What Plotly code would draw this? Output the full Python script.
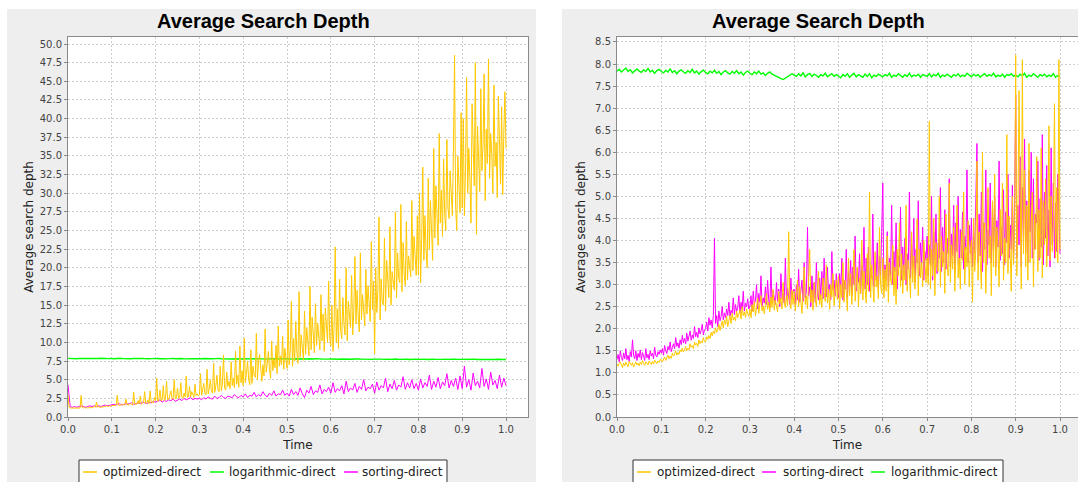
import plotly.graph_objects as go

# ---------------------------------------------------------------- data
# Sample times: every 0.0025 for the busy series, every 0.005 for the others
time_fine = [i / 400 for i in range(401)]
time_dense = [i / 200 for i in range(201)]

# Run A
a_optimized = [
    3.0, 1.3, 1.2, 1.2, 1.3, 1.2, 1.2, 1.3, 1.2, 1.3, 1.2, 1.2, 2.9, 1.3, 1.2, 1.3, 1.2, 1.3, 1.2, 1.3,
    1.3, 1.2, 1.3, 1.3, 1.4, 1.3, 2.0, 1.3, 1.4, 1.3, 1.3, 1.4, 1.4, 1.3, 1.4, 1.5, 1.4, 1.4, 1.5, 1.4,
    1.5, 1.5, 1.6, 1.5, 1.6, 2.9, 1.6, 1.5, 1.6, 1.7, 1.6, 1.7, 1.6, 2.4, 1.7, 1.6, 1.7, 1.8, 1.7, 1.6,
    3.3, 1.7, 1.8, 1.7, 2.2, 1.8, 2.8, 1.7, 1.8, 1.9, 3.4, 1.8, 1.9, 2.3, 1.8, 3.5, 1.9, 2.0, 1.9, 2.6,
    2.2, 5.2, 2.1, 2.4, 3.6, 2.2, 2.3, 4.2, 2.2, 2.5, 4.8, 2.3, 2.4, 3.0, 3.5, 2.4, 2.5, 5.0, 2.4, 2.6,
    3.9, 2.5, 2.6, 4.6, 2.7, 2.5, 3.2, 2.7, 5.5, 2.6, 2.8, 4.1, 2.7, 3.4, 2.8, 2.6, 4.4, 2.9, 3.1, 2.8,
    3.0, 5.8, 2.9, 3.5, 4.5, 3.2, 3.0, 6.4, 3.1, 3.8, 5.0, 3.4, 3.2, 7.2, 3.3, 4.2, 5.6, 3.6, 3.4, 6.8,
    3.5, 4.4, 8.3, 3.9, 3.6, 6.0, 4.1, 4.8, 3.8, 7.4, 4.2, 5.2, 3.9, 8.8, 4.4, 5.6, 4.0, 9.5, 4.6, 6.2,
    4.2, 10.6, 4.6, 6.0, 7.5, 5.0, 4.3, 9.0, 4.5, 6.8, 5.6, 5.3, 11.2, 5.0, 7.6, 8.4, 5.8, 4.8, 7.0, 5.5,
    11.8, 6.0, 7.2, 8.8, 6.4, 5.2, 10.2, 6.2, 7.8, 6.6, 9.6, 5.8, 12.2, 6.8, 8.2, 7.0, 10.8, 6.4, 9.2, 7.2,
    6.5, 13.0, 7.0, 9.0, 15.5, 6.8, 10.5, 7.5, 12.8, 8.6, 7.2, 16.8, 8.0, 11.0, 9.4, 7.6, 14.2, 8.4, 12.0, 10.0,
    8.2, 17.5, 9.0, 13.4, 10.4, 8.6, 15.2, 9.6, 12.6, 11.0, 9.0, 16.4, 10.2, 13.8, 8.8, 14.6, 11.2, 10.0, 18.2, 10.6,
    9.5, 15.0, 8.8, 12.0, 22.8, 10.0, 14.5, 9.2, 18.5, 11.6, 10.5, 16.0, 12.4, 11.0, 20.0, 10.2, 15.5, 13.0, 12.0, 19.0,
    11.0, 14.2, 21.5, 12.5, 17.0, 13.6, 11.4, 22.0, 13.0, 16.4, 14.2, 12.2, 19.8, 13.8, 17.6, 15.0, 12.8, 23.5, 14.4, 18.2,
    8.5, 20.0, 14.0, 17.0, 26.8, 13.0, 18.5, 15.4, 15.0, 24.0, 14.2, 21.0, 17.2, 16.0, 25.5, 15.0, 19.5, 18.0, 17.0, 27.5,
    16.0, 22.0, 18.6, 18.0, 28.5, 16.8, 23.4, 19.2, 17.6, 26.2, 18.4, 21.6, 20.4, 18.8, 29.0, 19.6, 24.2, 21.0, 19.0, 27.0,
    19.0, 30.0, 18.0, 24.0, 33.5, 21.0, 27.0, 22.4, 20.0, 32.0, 22.5, 29.0, 25.0, 21.0, 36.0, 24.0, 31.0, 26.4, 23.0, 38.0,
    26.0, 30.4, 24.2, 34.6, 27.2, 25.0, 37.2, 28.0, 26.6, 33.0, 29.4, 27.0, 35.8, 48.5, 28.2, 25.0, 35.0, 30.6, 27.4, 40.8,
    28.0, 40.0, 27.0, 33.0, 45.5, 30.0, 36.0, 32.2, 26.0, 42.0, 34.0, 31.0, 47.5, 24.5, 39.0, 33.4, 30.2, 44.0, 33.0, 36.4,
    46.0, 29.0, 38.6, 34.0, 48.0, 32.0, 38.0, 35.2, 30.0, 44.5, 33.6, 36.8, 29.4, 43.0, 35.0, 31.2, 41.6, 29.8, 38.2, 43.6,
    36.0,
]
a_sorting = [
    4.3, 1.4, 1.3, 1.4, 1.3, 1.4, 1.5, 1.4, 1.3, 1.4, 1.5, 1.4, 1.5, 1.4, 1.5, 1.4, 1.5, 1.6, 1.5, 1.6,
    1.6, 1.7, 1.6, 1.8, 1.7, 1.6, 1.8, 1.7, 1.8, 1.9, 1.7, 1.8, 1.9, 1.8, 2.0, 1.9, 1.8, 2.0, 1.9, 2.1,
    2.0, 2.1, 2.3, 2.0, 2.2, 2.1, 2.3, 2.2, 2.4, 2.1, 2.3, 2.4, 2.2, 2.5, 2.3, 2.4, 2.6, 2.3, 2.5, 2.4,
    2.5, 2.3, 2.6, 2.4, 2.7, 2.5, 2.4, 2.8, 2.5, 2.6, 2.9, 2.6, 2.5, 2.8, 2.7, 2.6, 3.0, 2.7, 2.6, 2.9,
    2.7, 3.1, 2.6, 2.9, 2.8, 3.3, 2.7, 3.0, 2.8, 3.4, 2.9, 2.7, 3.2, 2.9, 3.5, 2.8, 3.1, 3.0, 3.6, 2.9,
    3.2, 2.8, 3.7, 3.0, 3.4, 2.9, 3.9, 3.1, 2.6, 3.6, 3.2, 4.1, 3.0, 3.5, 3.3, 4.3, 3.1, 3.7, 3.4, 4.0,
    3.2, 4.6, 3.3, 3.8, 3.5, 4.2, 3.1, 4.8, 3.4, 3.9, 3.6, 4.5, 3.3, 4.1, 3.7, 5.0, 3.5, 4.0, 3.8, 4.4,
    3.2, 4.7, 3.6, 4.2, 3.9, 5.2, 3.4, 4.4, 3.8, 4.9, 3.6, 4.3, 4.0, 5.4, 3.7, 4.6, 3.9, 5.0, 3.8, 4.5,
    3.6, 5.1, 3.9, 4.6, 4.1, 5.6, 3.7, 4.8, 4.0, 5.3, 3.8, 4.7, 4.2, 5.8, 3.9, 4.9, 4.1, 5.2, 3.7, 5.5,
    3.8, 6.8, 4.0, 5.0, 3.6, 5.9, 4.2, 4.8, 3.9, 6.5, 4.1, 5.1, 3.7, 6.0, 4.3, 4.9, 3.8, 5.6, 4.0, 5.2,
    4.2,
]
a_logarithmic = [
    7.86, 7.83, 7.88, 7.84, 7.81, 7.86, 7.85, 7.89, 7.82, 7.85, 7.87, 7.83, 7.80, 7.86, 7.84, 7.88, 7.82, 7.85, 7.83, 7.87,
    7.84, 7.81, 7.86, 7.83, 7.87, 7.82, 7.80, 7.85, 7.84, 7.81, 7.86, 7.83, 7.85, 7.79, 7.84, 7.82, 7.86, 7.81, 7.83, 7.85,
    7.82, 7.84, 7.80, 7.85, 7.83, 7.79, 7.84, 7.82, 7.86, 7.80, 7.83, 7.81, 7.84, 7.79, 7.82, 7.85, 7.80, 7.83, 7.81, 7.78,
    7.83, 7.80, 7.84, 7.81, 7.79, 7.83, 7.80, 7.82, 7.78, 7.84, 7.81, 7.79, 7.82, 7.80, 7.83, 7.77, 7.81, 7.79, 7.82, 7.80,
    7.78, 7.82, 7.79, 7.81, 7.77, 7.80, 7.82, 7.78, 7.81, 7.79, 7.76, 7.81, 7.79, 7.80, 7.77, 7.82, 7.78, 7.80, 7.76, 7.79,
    7.81, 7.77, 7.79, 7.76, 7.80, 7.78, 7.81, 7.75, 7.79, 7.77, 7.80, 7.76, 7.78, 7.80, 7.75, 7.79, 7.77, 7.74, 7.79, 7.76,
    7.78, 7.75, 7.79, 7.77, 7.74, 7.78, 7.76, 7.79, 7.74, 7.77, 7.75, 7.78, 7.73, 7.77, 7.76, 7.74, 7.78, 7.75, 7.77, 7.73,
    7.76, 7.78, 7.74, 7.76, 7.73, 7.77, 7.75, 7.72, 7.76, 7.74, 7.77, 7.73, 7.75, 7.72, 7.76, 7.74, 7.71, 7.75, 7.73, 7.76,
    7.72, 7.75, 7.73, 7.76, 7.71, 7.74, 7.72, 7.75, 7.73, 7.70, 7.74, 7.72, 7.75, 7.71, 7.73, 7.75, 7.70, 7.74, 7.72, 7.73,
    7.71, 7.74, 7.72, 7.69, 7.73, 7.71, 7.74, 7.70, 7.72, 7.74, 7.69, 7.73, 7.71, 7.72, 7.70, 7.73, 7.71, 7.74, 7.70, 7.72,
    7.71,
]

# Run B
b_optimized = [
    1.20, 1.15, 1.22, 1.25, 1.18, 1.12, 1.22, 1.16, 1.24, 1.19, 1.14, 1.26, 1.20, 1.17, 1.23, 1.13, 1.20, 1.25, 1.18, 1.22,
    1.16, 1.24, 1.19, 1.28, 1.21, 1.17, 1.25, 1.22, 1.18, 1.27, 1.23, 1.19, 1.26, 1.20, 1.29, 1.23, 1.21, 1.27, 1.24, 1.30,
    1.30, 1.25, 1.33, 1.36, 1.28, 1.35, 1.40, 1.32, 1.38, 1.33, 1.45, 1.38, 1.42, 1.50, 1.40, 1.46, 1.42, 1.52, 1.48, 1.56,
    1.47, 1.53, 1.60, 1.50, 1.56, 1.52, 1.66, 1.58, 1.62, 1.55, 1.70, 1.63, 1.67, 1.60, 1.75, 1.66, 1.72, 1.68, 1.80, 1.71,
    1.70, 1.82, 1.76, 1.85, 1.78, 1.92, 1.84, 1.95, 1.88, 2.02, 1.92, 1.98, 2.10, 1.96, 2.05, 2.18, 2.02, 2.20, 2.10, 2.28,
    2.05, 2.22, 2.30, 2.12, 2.35, 2.20, 2.26, 2.18, 2.40, 2.25, 2.32, 2.42, 2.22, 2.50, 2.30, 2.38, 2.26, 2.45, 2.34, 2.28,
    2.45, 2.25, 2.55, 2.38, 2.62, 2.30, 2.48, 2.70, 2.35, 2.58, 2.75, 2.40, 2.52, 2.34, 2.66, 2.80, 2.44, 2.60, 2.38, 2.72,
    2.48, 2.90, 2.42, 2.65, 2.52, 2.38, 2.85, 2.56, 2.70, 2.45, 3.05, 2.60, 2.48, 2.75, 2.52, 4.20, 2.62, 2.45, 2.88, 2.55,
    2.85, 2.40, 2.70, 3.10, 2.50, 2.95, 2.62, 2.35, 2.80, 3.40, 2.55, 2.75, 2.45, 3.00, 3.80, 2.60, 2.88, 2.42, 3.05, 2.70,
    2.50, 2.92, 3.30, 2.55, 2.78, 2.48, 3.15, 2.85, 2.62, 3.45, 2.58, 2.90, 2.44, 3.00, 2.72, 3.25, 2.52, 2.85, 3.10, 2.66,
    3.20, 2.45, 3.00, 2.70, 3.50, 2.60, 3.10, 2.85, 2.40, 3.60, 2.75, 3.25, 2.55, 3.05, 3.80, 2.62, 2.95, 3.40, 2.50, 3.15,
    2.80, 4.00, 2.65, 3.30, 2.90, 2.58, 3.70, 2.85, 5.10, 2.70, 3.45, 3.05, 2.60, 3.75, 2.95, 3.20, 2.68, 4.30, 3.00, 2.80,
    3.60, 2.70, 3.35, 2.85, 4.10, 2.60, 3.50, 3.10, 3.00, 3.90, 2.75, 3.40, 2.55, 3.80, 3.20, 4.40, 2.95, 3.70, 2.80, 3.45,
    3.10, 4.80, 2.85, 3.55, 3.25, 2.70, 4.20, 3.05, 3.65, 2.90, 3.35, 4.50, 2.75, 3.80, 3.15, 3.50, 2.95, 4.00, 3.30, 3.05,
    3.60, 3.00, 6.70, 2.90, 3.80, 3.20, 4.50, 2.75, 3.95, 3.40, 3.30, 5.00, 2.95, 4.10, 3.40, 3.75, 2.80, 4.60, 3.50, 3.20,
    5.30, 3.05, 3.90, 3.35, 4.30, 2.85, 3.70, 4.80, 3.15, 3.60, 2.90, 4.20, 3.55, 5.10, 3.00, 3.85, 3.40, 4.45, 2.95, 3.75,
    4.00, 2.60, 4.50, 3.30, 3.80, 5.80, 3.10, 4.20, 3.55, 2.90, 6.00, 3.50, 4.40, 2.80, 3.95, 5.20, 3.60, 4.10, 2.75, 4.90,
    3.40, 5.50, 3.20, 4.30, 3.85, 2.95, 4.70, 3.65, 5.30, 3.10, 4.05, 3.50, 6.40, 3.25, 4.55, 3.75, 2.85, 5.00, 3.45, 4.20,
    8.20, 3.20, 4.60, 7.40, 4.30, 2.90, 8.10, 3.70, 5.60, 3.40, 4.80, 3.10, 6.20, 3.50, 4.40, 5.10, 2.95, 4.60, 3.80, 5.90,
    3.30, 4.70, 3.60, 6.10, 3.15, 4.90, 3.90, 5.40, 3.40, 4.30, 6.60, 3.55, 5.00, 3.75, 4.40, 7.10, 3.60, 5.20, 3.50, 8.10,
    3.80,
]
b_sorting = [
    1.30, 1.42, 1.25, 1.50, 1.35, 1.28, 1.45, 1.32, 1.55, 1.30, 1.40, 1.26, 1.48, 1.36, 1.75, 1.40, 1.32, 1.50, 1.28, 1.44,
    1.35, 1.52, 1.30, 1.46, 1.38, 1.28, 1.55, 1.34, 1.42, 1.30, 1.50, 1.38, 1.45, 1.32, 1.58, 1.40, 1.36, 1.48, 1.42, 1.52,
    1.45, 1.55, 1.40, 1.62, 1.50, 1.44, 1.60, 1.52, 1.70, 1.48, 1.58, 1.66, 1.55, 1.80, 1.60, 1.68, 1.56, 1.75, 1.64, 1.85,
    1.68, 1.78, 1.66, 1.90, 1.72, 1.82, 1.95, 1.74, 1.86, 1.78, 2.05, 1.82, 1.92, 1.80, 2.02, 1.88, 1.96, 2.10, 1.86, 1.98,
    2.00, 2.15, 1.95, 2.25, 2.08, 2.20, 2.02, 2.30, 4.05, 2.12, 2.30, 2.05, 2.40, 2.18, 2.28, 2.50, 2.20, 2.36, 2.25, 2.45,
    2.30, 2.60, 2.28, 2.42, 2.35, 2.70, 2.32, 2.55, 2.40, 2.48, 2.75, 2.36, 2.60, 2.44, 2.85, 2.40, 2.58, 2.50, 2.68, 2.45,
    2.50, 2.75, 2.40, 2.85, 2.55, 2.65, 3.00, 2.45, 2.80, 2.60, 3.20, 2.50, 2.70, 2.58, 2.95, 2.55, 3.10, 2.65, 2.48, 3.40,
    2.60, 2.85, 2.70, 2.55, 3.05, 2.62, 2.90, 2.50, 3.25, 2.68, 2.80, 2.58, 3.60, 2.65, 2.92, 2.72, 2.55, 3.15, 2.70, 2.85,
    2.90, 2.55, 3.00, 2.65, 3.35, 2.60, 2.80, 3.10, 2.62, 3.50, 2.70, 2.85, 4.30, 2.75, 2.95, 2.50, 3.20, 2.70, 3.05, 2.60,
    3.50, 2.80, 2.65, 3.15, 2.75, 3.30, 2.68, 3.60, 2.85, 2.72, 3.40, 2.80, 3.00, 2.66, 3.75, 2.88, 3.10, 2.74, 3.25, 2.90,
    2.70, 3.25, 2.85, 3.60, 2.65, 3.10, 2.90, 3.80, 2.70, 3.30, 2.95, 3.55, 2.75, 3.40, 3.00, 4.10, 2.85, 3.35, 3.05, 3.70,
    2.80, 3.45, 3.10, 4.30, 2.90, 3.60, 3.00, 3.85, 2.85, 3.40, 3.15, 4.60, 2.95, 3.50, 3.10, 3.95, 2.90, 3.65, 3.20, 4.20,
    5.30, 2.90, 3.45, 3.10, 4.20, 2.95, 3.60, 3.20, 4.80, 3.00, 3.75, 3.30, 4.40, 2.90, 3.65, 3.40, 4.75, 3.10, 3.85, 3.25,
    4.05, 3.00, 3.70, 3.35, 5.10, 3.15, 3.90, 3.40, 4.50, 3.05, 3.80, 3.50, 4.90, 3.20, 3.95, 3.45, 4.30, 3.10, 3.75, 3.55,
    4.10, 3.20, 3.90, 3.45, 5.00, 3.10, 4.20, 3.55, 4.60, 3.25, 3.95, 3.60, 5.20, 3.30, 4.30, 3.50, 4.70, 3.35, 4.05, 3.70,
    5.40, 3.40, 4.15, 3.65, 4.80, 3.30, 4.40, 3.75, 5.00, 3.45, 4.25, 3.60, 4.65, 3.35, 4.10, 3.80, 5.60, 3.50, 4.35, 3.70,
    4.50, 3.40, 4.20, 3.70, 5.20, 6.20, 3.50, 4.60, 3.65, 5.10, 3.30, 4.40, 3.80, 5.60, 3.45, 4.25, 3.90, 5.30, 3.50, 4.70,
    3.75, 5.00, 3.40, 4.45, 3.85, 5.80, 3.55, 4.30, 3.70, 5.15, 3.45, 4.65, 3.95, 5.50, 3.60, 4.35, 3.80, 5.25, 3.50, 4.80,
    7.30, 3.60, 4.80, 3.90, 5.90, 3.40, 5.20, 4.10, 6.30, 3.70, 4.90, 3.50, 5.60, 4.20, 6.00, 3.60, 5.40, 3.80, 4.60, 4.40,
    5.80, 3.55, 4.95, 3.85, 6.40, 3.45, 5.10, 4.05, 5.70, 3.65, 4.70, 3.40, 6.10, 3.90, 5.30, 3.60, 4.85, 3.75, 5.50, 4.40,
    3.70,
]
b_logarithmic = [
    7.84, 7.88, 7.82, 7.86, 7.91, 7.83, 7.87, 7.80, 7.85, 7.89, 7.84, 7.81, 7.87, 7.83, 7.90, 7.82, 7.86, 7.79, 7.85, 7.88,
    7.83, 7.80, 7.86, 7.82, 7.89, 7.81, 7.85, 7.78, 7.84, 7.87, 7.82, 7.79, 7.85, 7.81, 7.88, 7.80, 7.84, 7.77, 7.83, 7.86,
    7.81, 7.78, 7.84, 7.80, 7.86, 7.79, 7.83, 7.76, 7.82, 7.85, 7.80, 7.77, 7.83, 7.79, 7.85, 7.78, 7.82, 7.75, 7.81, 7.84,
    7.79, 7.76, 7.82, 7.78, 7.84, 7.77, 7.80, 7.74, 7.79, 7.82, 7.77, 7.75, 7.72, 7.70, 7.67, 7.65, 7.68, 7.71, 7.74, 7.78,
    7.75, 7.72, 7.78, 7.73, 7.80, 7.71, 7.76, 7.79, 7.72, 7.77, 7.74, 7.70, 7.76, 7.73, 7.79, 7.71, 7.75, 7.78, 7.72, 7.76,
    7.73, 7.69, 7.76, 7.72, 7.78, 7.70, 7.75, 7.79, 7.71, 7.76, 7.73, 7.70, 7.77, 7.72, 7.78, 7.69, 7.75, 7.72, 7.77, 7.74,
    7.71, 7.76, 7.73, 7.79, 7.70, 7.75, 7.72, 7.78, 7.74, 7.70, 7.76, 7.72, 7.79, 7.71, 7.75, 7.73, 7.77, 7.70, 7.76, 7.74,
    7.72, 7.78, 7.71, 7.76, 7.73, 7.79, 7.70, 7.75, 7.72, 7.77, 7.74, 7.70, 7.76, 7.73, 7.78, 7.71, 7.75, 7.72, 7.79, 7.74,
    7.71, 7.77, 7.73, 7.76, 7.70, 7.75, 7.78, 7.72, 7.76, 7.73, 7.79, 7.71, 7.75, 7.72, 7.77, 7.70, 7.76, 7.74, 7.78, 7.72,
    7.75, 7.71, 7.77, 7.73, 7.79, 7.70, 7.75, 7.72, 7.78, 7.74, 7.70, 7.76, 7.73, 7.77, 7.71, 7.75, 7.72, 7.78, 7.70, 7.74,
    7.72,
]

a_yticks = [i * 2.5 for i in range(21)]
b_yticks = [i * 0.5 for i in range(18)]
x_ticks = [i / 10 for i in range(11)]

# ---------------------------------------------------------------- style
W, H = 1078, 482
ORANGE, GREEN, MAGENTA = "rgb(255,200,0)", "rgb(0,255,0)", "rgb(255,0,255)"
FONT = "DejaVu Sans"
PANEL = "#EEEEEE"
COLOURS = {"optimized-direct": ORANGE, "logarithmic-direct": GREEN,
           "sorting-direct": MAGENTA}


def px_x(p):
    return p / W


def px_y(p):
    return 1 - p / H


fig = go.Figure()

# Traces go back to front so the first legend entry is drawn on top
left = [("sorting-direct", a_sorting, time_dense, 1),
        ("logarithmic-direct", a_logarithmic, time_dense, 1.4),
        ("optimized-direct", a_optimized, time_fine, 1)]
for name, ys, xs, lw in left:
    fig.add_trace(go.Scatter(x=xs, y=ys, mode="lines", name=name,
                             line=dict(color=COLOURS[name], width=lw),
                             xaxis="x", yaxis="y", showlegend=False))

right = [("logarithmic-direct", b_logarithmic, time_dense, 1.4),
         ("sorting-direct", b_sorting, time_fine, 1),
         ("optimized-direct", b_optimized, time_fine, 1)]
for name, ys, xs, lw in right:
    fig.add_trace(go.Scatter(x=xs, y=ys, mode="lines", name=name,
                             line=dict(color=COLOURS[name], width=lw),
                             xaxis="x2", yaxis="y2", showlegend=False))

axis_common = dict(
    showgrid=True, gridcolor="#CFCFCF", griddash="2px,2px", gridwidth=1,
    showline=True, linecolor="#8A8A8A", linewidth=1,
    ticks="outside", ticklen=3, tickcolor="#8A8A8A",
    tickfont=dict(family=FONT, size=10, color="#444444"),
    zeroline=False, tickformat=".1f", automargin=False,
)
title_font = dict(family=FONT, size=12, color="#222222")

y_dom = [px_y(417), px_y(37)]

shapes = [
    # chart panels
    dict(type="rect", xref="paper", yref="paper", layer="below",
         x0=px_x(7), x1=px_x(536), y0=-0.01, y1=px_y(9),
         fillcolor=PANEL, line=dict(width=0)),
    dict(type="rect", xref="paper", yref="paper", layer="below",
         x0=px_x(562), x1=1.01, y0=-0.01, y1=px_y(9),
         fillcolor=PANEL, line=dict(width=0)),
    # white plotting areas
    dict(type="rect", xref="paper", yref="paper", layer="below",
         x0=px_x(68), x1=px_x(528), y0=y_dom[0], y1=y_dom[1],
         fillcolor="white", line=dict(width=0)),
    dict(type="rect", xref="paper", yref="paper", layer="below",
         x0=px_x(617), x1=1.01, y0=y_dom[0], y1=y_dom[1],
         fillcolor="white", line=dict(width=0)),
]

annotations = [
    dict(text="<b>Average Search Depth</b>", xref="paper", yref="paper",
         x=px_x(263), y=px_y(21), xanchor="center", yanchor="middle",
         showarrow=False, font=dict(family="Liberation Sans", size=20, color="black")),
    dict(text="<b>Average Search Depth</b>", xref="paper", yref="paper",
         x=px_x(818), y=px_y(21), xanchor="center", yanchor="middle",
         showarrow=False, font=dict(family="Liberation Sans", size=20, color="black")),
]

# Legend boxes: (box left, box right, [(series, sample start, text start), ...])
legends = [
    (79, 447, [("optimized-direct", 83, 101),
               ("logarithmic-direct", 210, 227),
               ("sorting-direct", 344, 360)]),
    (633, 1003, [("optimized-direct", 637, 655),
                 ("sorting-direct", 762, 781),
                 ("logarithmic-direct", 871, 889)]),
]
LEG_TOP, LEG_MID = 460, 472
for bx0, bx1, items in legends:
    shapes.append(dict(type="rect", xref="paper", yref="paper",
                       x0=px_x(bx0), x1=px_x(bx1), y0=px_y(486), y1=px_y(LEG_TOP),
                       fillcolor="white", line=dict(color="#333333", width=1)))
    for name, sx, tx in items:
        shapes.append(dict(type="line", xref="paper", yref="paper",
                           x0=px_x(sx), x1=px_x(sx + 14), y0=px_y(LEG_MID), y1=px_y(LEG_MID),
                           line=dict(color=COLOURS[name], width=1.5)))
        annotations.append(dict(text=name, xref="paper", yref="paper",
                                x=px_x(tx), y=px_y(LEG_MID), xanchor="left", yanchor="middle",
                                showarrow=False,
                                font=dict(family=FONT, size=12, color="#222222")))

fig.update_layout(
    width=W, height=H,
    margin=dict(l=0, r=0, t=0, b=0),
    paper_bgcolor="white", plot_bgcolor="rgba(0,0,0,0)",
    showlegend=False,
    xaxis=dict(axis_common, domain=[px_x(68), px_x(528)], range=[0, 1.0502],
               tickvals=x_ticks, mirror=True, anchor="y",
               title=dict(text="Time", font=title_font, standoff=6)),
    yaxis=dict(axis_common, domain=y_dom, range=[0, 50.94],
               tickvals=a_yticks, mirror=True, anchor="x",
               title=dict(text="Average search depth", font=title_font, standoff=3)),
    xaxis2=dict(axis_common, domain=[px_x(617), 1.0], range=[0, 1.0406],
                tickvals=x_ticks, mirror=True, anchor="y2",
                title=dict(text="Time", font=title_font, standoff=6)),
    yaxis2=dict(axis_common, domain=y_dom, range=[0, 8.613],
                tickvals=b_yticks, mirror=False, anchor="x2",
                title=dict(text="Average search depth", font=title_font, standoff=6)),
    shapes=shapes,
    annotations=annotations,
)

fig.write_html("out.html")
